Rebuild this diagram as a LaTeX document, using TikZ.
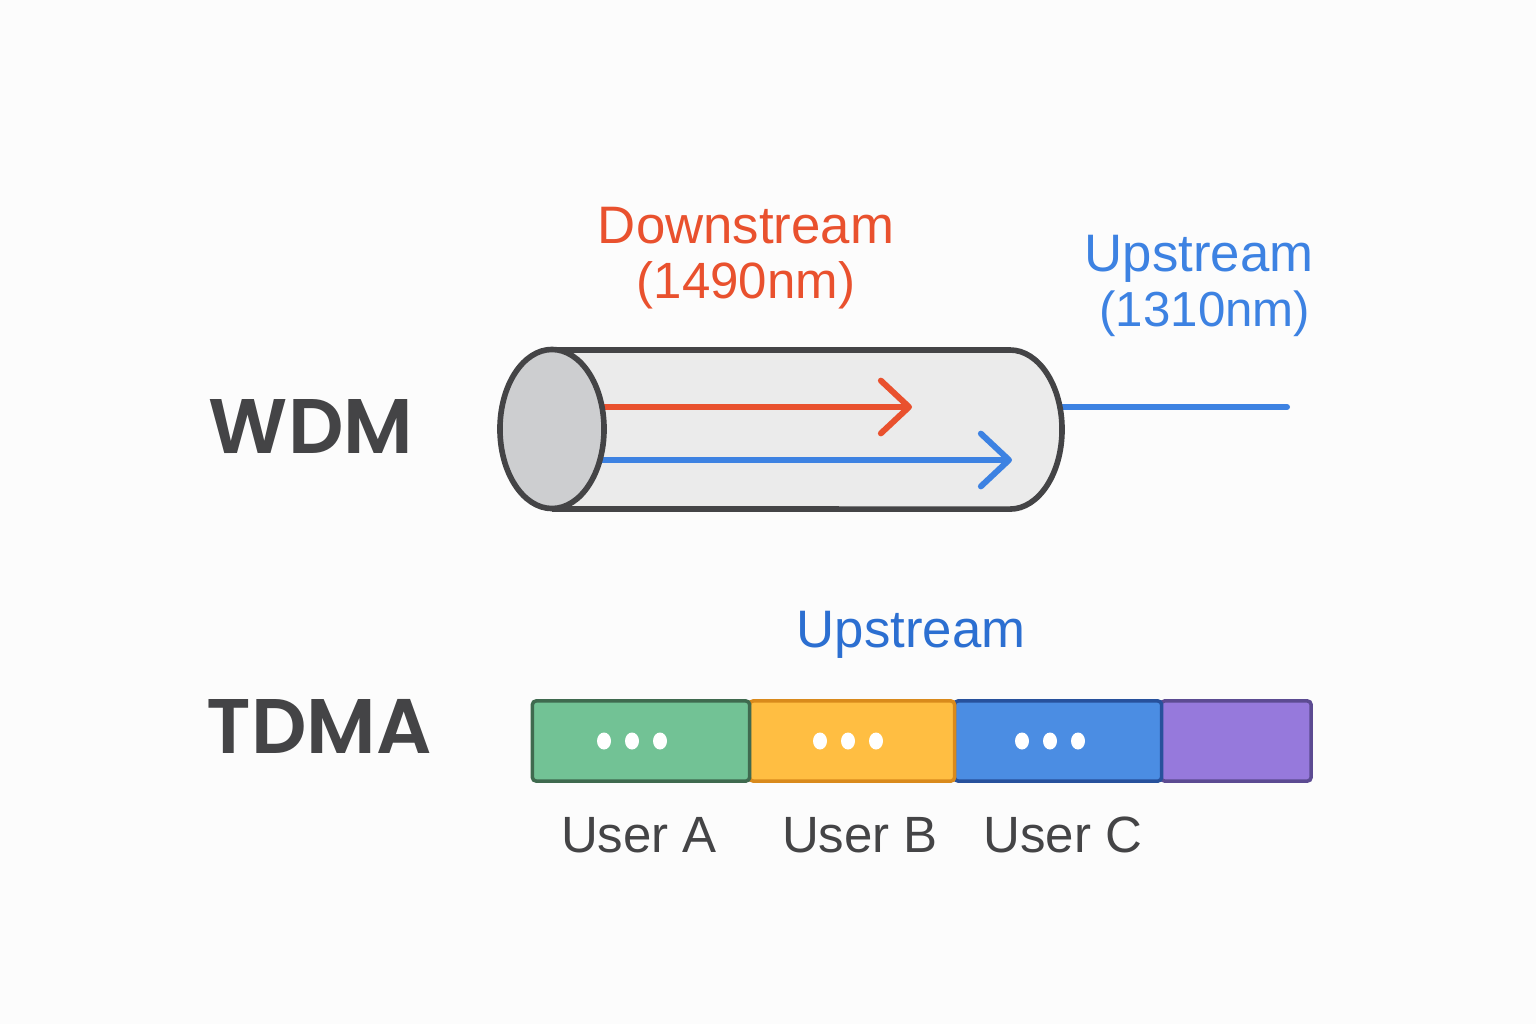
\documentclass[tikz,border=0pt]{standalone}
\usepackage{fontspec}
\setmainfont{Liberation Sans}
\newfontfamily\headfont{Poppins SemiBold}
\usetikzlibrary{arrows.meta}

\definecolor{bgwhite}{HTML}{FCFCFC}
\definecolor{inkgray}{HTML}{444446}
\definecolor{tubegray}{HTML}{EBEBEB}
\definecolor{facegray}{HTML}{CDCED0}
\definecolor{downred}{HTML}{E9512E}
\definecolor{upblue}{HTML}{3D82E2}
\definecolor{updark}{HTML}{2C6FD1}
\definecolor{slotgreen}{HTML}{72C295}
\definecolor{edgegreen}{HTML}{3F6A4F}
\definecolor{slotorange}{HTML}{FFBE42}
\definecolor{edgeorange}{HTML}{D98A1C}
\definecolor{slotblue}{HTML}{4B8DE3}
\definecolor{edgeblue}{HTML}{27519C}
\definecolor{slotpurple}{HTML}{9679DC}
\definecolor{edgepurple}{HTML}{5C4B92}

\tikzset{
    head/.style={font=\headfont\fontsize{22}{22}\selectfont, text=inkgray, anchor=base, inner sep=0pt},
    lbl/.style={font=\fontsize{15}{15}\selectfont, anchor=base, inner sep=0pt},
    slot/.style={draw, line width=1pt, rounded corners=1pt, minimum height=0.8cm, inner sep=0pt},
    beam/.style={line width=1.7pt, line cap=round, -{Straight Barb[length=8pt,width=15pt,round]}},
}

\begin{document}
\begin{tikzpicture}[x=0.01cm, y=-0.01cm]
    \fill[bgwhite] (0,0) rectangle (1536,1024);
    \useasboundingbox (0,0) rectangle (1536,1024);

    % Define the positions of the nodes
    \node[head] (wdm) at (311,453) {WDM};
    \node[head] (tdma) at (319,753) {TDMA};

    \node[lbl, text=downred] (down) at (746,243) {Downstream};
    \node[lbl, text=downred, font=\fontsize{14.5}{15}\selectfont] (downnm) at (746,298) {(1490nm)};
    \node[lbl, text=upblue] (up) at (1199,271) {Upstream};
    \node[lbl, text=upblue, font=\fontsize{14}{15}\selectfont, anchor=base east] (upnm) at (1311,326) {(1310nm)};

    % the fibre
    \fill[tubegray] (552,350) -- (1010,350) arc[start angle=90, end angle=-90, x radius=0.52cm, y radius=0.795cm] -- (552,509) -- cycle;
    \coordinate (dsstart) at (600,407);
    \coordinate (dsend) at (912,407);
    \coordinate (usstart) at (598,460);
    \coordinate (usend) at (1012,460);
    \coordinate (tubeout) at (1060,407);
    \coordinate (lineend) at (1287,407);

    % Draw the edges
    \draw[beam, downred] (dsstart) -- (dsend);
    \draw[beam, upblue] (usstart) -- (usend);
    \draw[upblue, line width=1.7pt, line cap=round] (tubeout) -- (lineend);

    \draw[inkgray, line width=1.6pt] (552,350) -- (1010,350) arc[start angle=90, end angle=-90, x radius=0.52cm, y radius=0.795cm] -- (552,509);
    \draw[inkgray, fill=facegray, line width=1.6pt] (552,429) ellipse[x radius=0.52cm, y radius=0.795cm];

    % time slots
    \node[lbl, text=updark] (tdmaup) at (911,647) {Upstream};

    \node[slot, fill=slotpurple, draw=edgepurple, minimum width=1.5cm] (slotd) at (1236,741) {};
    \node[slot, fill=slotblue, draw=edgeblue, minimum width=2.07cm] (slotc) at (1058,741) {};
    \node[slot, fill=slotorange, draw=edgeorange, minimum width=2.05cm] (slotb) at (852,741) {};
    \node[slot, fill=slotgreen, draw=edgegreen, minimum width=2.17cm] (slota) at (641,741) {};

    \foreach \x in {604,632,660,820,848,876,1022,1050,1078}
        \fill[white] (\x,741) ellipse[x radius=0.07cm, y radius=0.085cm];

    \node[lbl, text=inkgray, font=\fontsize{14.5}{15}\selectfont] (usera) at (639,852) {User A};
    \node[lbl, text=inkgray, font=\fontsize{14.5}{15}\selectfont] (userb) at (860,852) {User B};
    \node[lbl, text=inkgray, font=\fontsize{14.5}{15}\selectfont] (userc) at (1063,852) {User C};
\end{tikzpicture}
\end{document}
